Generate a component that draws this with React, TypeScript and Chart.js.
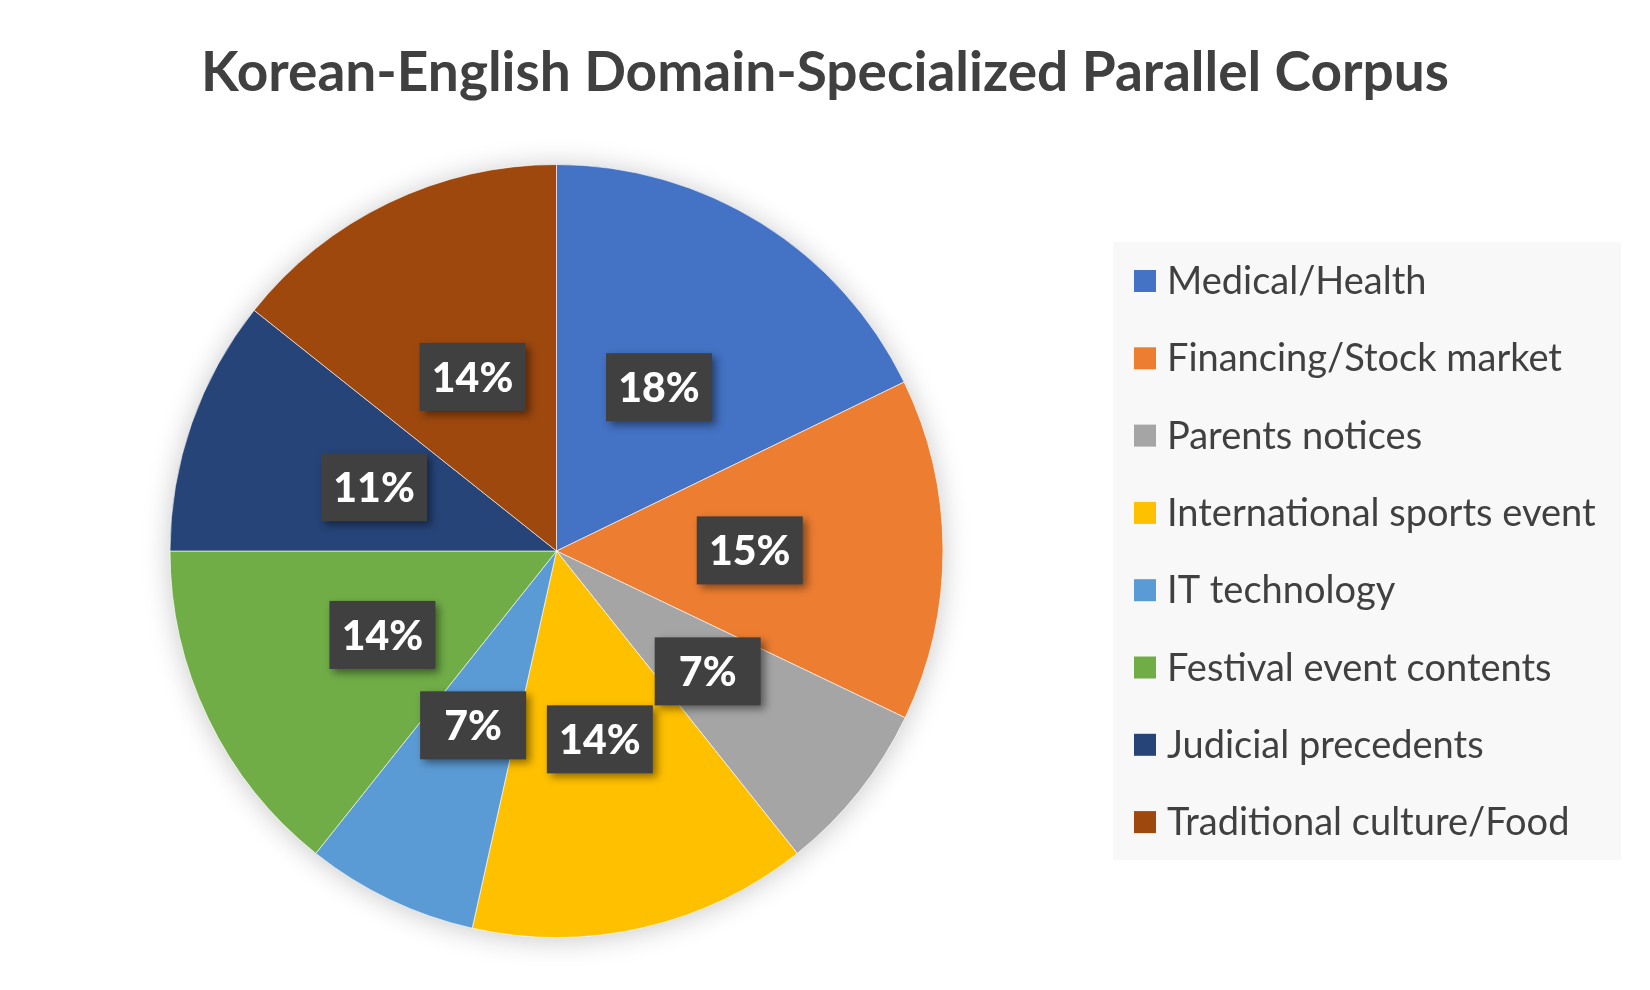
import React, { useEffect, useRef } from "react";
import { Chart, registerables } from "chart.js";

Chart.register(...registerables);

const TITLE = "Korean-English Domain-Specialized Parallel Corpus";
const categories = [
  "Medical/Health",
  "Financing/Stock market",
  "Parents notices",
  "International sports event",
  "IT technology",
  "Festival event contents",
  "Judicial precedents",
  "Traditional culture/Food",
];
const shares = [17.8, 14.3, 7.2, 14.2, 7.2, 14.3, 10.7, 14.3];
const percentLabels = ["18%", "15%", "7%", "14%", "7%", "14%", "11%", "14%"];
const colors = ["#4472C4", "#ED7D31", "#A5A5A5", "#FFC000", "#5B9BD5", "#70AD47", "#264478", "#9E480E"];

const FONT = "Lato, 'Open Sans', sans-serif";

const pieShadow = {
  id: "pieShadow",
  beforeDatasetsDraw(chart: any) {
    const meta = chart.getDatasetMeta(0);
    const arc = meta.data[0];
    if (!arc) return;
    const { x, y, outerRadius } = arc.getProps(["x", "y", "outerRadius"], true);
    const ctx = chart.ctx;
    ctx.save();
    ctx.shadowColor = "rgba(0,0,0,0.22)";
    ctx.shadowBlur = 28;
    ctx.shadowOffsetX = 0;
    ctx.shadowOffsetY = 2;
    ctx.fillStyle = "#ffffff";
    ctx.beginPath();
    ctx.arc(x, y, outerRadius, 0, Math.PI * 2);
    ctx.fill();
    ctx.restore();
  },
};

const dataLabels = {
  id: "dataLabels",
  afterDatasetsDraw(chart: any) {
    const ctx = chart.ctx;
    const meta = chart.getDatasetMeta(0);
    meta.data.forEach((arc: any, i: number) => {
      const p = arc.tooltipPosition(true);
      const w = 106;
      const h = 68;
      ctx.save();
      ctx.shadowColor = "rgba(0,0,0,0.45)";
      ctx.shadowBlur = 8;
      ctx.shadowOffsetX = 4;
      ctx.shadowOffsetY = 4;
      ctx.fillStyle = "#404040";
      ctx.fillRect(p.x - w / 2, p.y - h / 2, w, h);
      ctx.restore();
      ctx.save();
      ctx.fillStyle = "#ffffff";
      ctx.font = `900 41px ${FONT}`;
      ctx.textAlign = "center";
      ctx.textBaseline = "alphabetic";
      ctx.fillText(percentLabels[i], p.x, p.y + 15);
      ctx.restore();
    });
  },
};

const customLegend = {
  id: "customLegend",
  afterDraw(chart: any) {
    const ctx = chart.ctx;
    ctx.save();
    ctx.fillStyle = "#f8f8f8";
    ctx.fillRect(1105, 234, 508, 618);
    categories.forEach((c, i) => {
      const cy = 273 + i * 77.3;
      ctx.fillStyle = colors[i];
      ctx.fillRect(1126, cy - 11, 22, 22);
      ctx.fillStyle = "#404040";
      ctx.font = `38px ${FONT}`;
      ctx.textAlign = "left";
      ctx.textBaseline = "alphabetic";
      ctx.fillText(c, 1159, cy + 13);
    });
    ctx.restore();
  },
};

const customTitle = {
  id: "customTitle",
  afterDraw(chart: any) {
    const ctx = chart.ctx;
    ctx.save();
    ctx.fillStyle = "#404040";
    ctx.font = `bold 55px ${FONT}`;
    ctx.textAlign = "center";
    ctx.textBaseline = "alphabetic";
    ctx.fillText(TITLE, chart.width / 2, 83);
    ctx.restore();
  },
};

export default function App() {
  const ref = useRef<HTMLCanvasElement | null>(null);
  useEffect(() => {
    if (!ref.current) return;
    const chart = new Chart(ref.current, {
      type: "pie",
      data: {
        labels: categories,
        datasets: [
          {
            data: shares,
            backgroundColor: colors,
            borderColor: "rgba(255,255,255,0.6)",
            borderWidth: 1,
          },
        ],
      },
      options: {
        responsive: false,
        animation: false,
        layout: { padding: { top: 156, bottom: 44, left: 161.5, right: 698.5 } },
        plugins: {
          legend: { display: false },
          title: { display: false },
          tooltip: { enabled: false },
        },
      },
      plugins: [pieShadow, dataLabels, customLegend, customTitle],
    });
    return () => chart.destroy();
  }, []);
  return (
    <div style={{ width: 1634, height: 974 }}>
      <canvas ref={ref} width={1634} height={974} style={{ display: "block" }} />
    </div>
  );
}
